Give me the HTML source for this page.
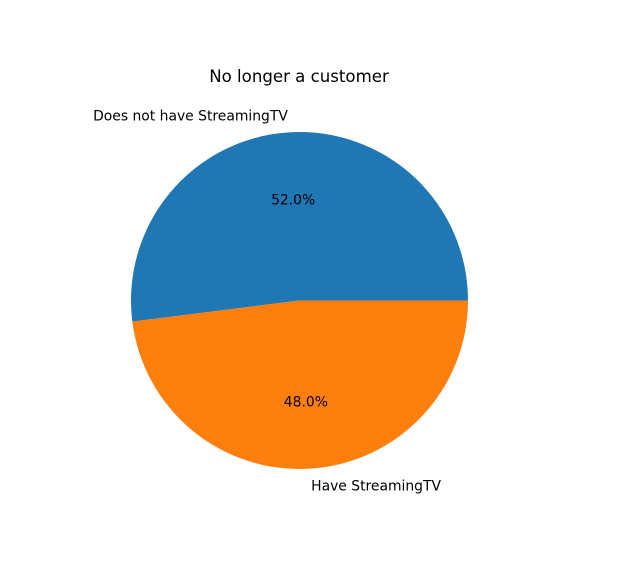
<!DOCTYPE html>
<html><head><meta charset="utf-8"><style>
html,body{margin:0;padding:0;background:#fff;}
svg{display:block;font-family:"DejaVu Sans","Liberation Sans",sans-serif;}
</style></head><body>
<svg id="chart" width="628" height="586" viewBox="0 0 628 586">
<text x="299" y="82" text-anchor="middle" font-size="16.6" fill="#000">No longer a customer</text>
<g id="slices"></g>
<g id="labels"></g>
</svg>
<script>
const categories = ["Does not have StreamingTV", "Have StreamingTV"];
const values = [52.0, 48.0];
const colors = ["#1f77b4", "#ff7f0e"];
const cx = 299.5, cy = 300.5, r = 168.5;
const ns = "http://www.w3.org/2000/svg";
const total = values.reduce((a,b)=>a+b,0);
const slices = document.getElementById("slices");
const labels = document.getElementById("labels");
function pt(deg, rad){ const a = deg*Math.PI/180; return [cx + rad*Math.cos(a), cy - rad*Math.sin(a)]; }
let start = 0;
values.forEach((v,i)=>{
  const sweep = v/total*360;
  const end = start + sweep;
  const [x1,y1] = pt(start,r), [x2,y2] = pt(end,r);
  const large = sweep > 180 ? 1 : 0;
  const p = document.createElementNS(ns,"path");
  p.setAttribute("d",`M${cx},${cy} L${x1},${y1} A${r},${r} 0 ${large} 0 ${x2},${y2} Z`);
  p.setAttribute("fill",colors[i]);
  
  
  slices.appendChild(p);
  const mid = start + sweep/2;
  const [lx,ly] = pt(mid, r*1.1);
  const t = document.createElementNS(ns,"text");
  t.setAttribute("x",lx); t.setAttribute("y",ly+5);
  t.setAttribute("font-size","13.9");
  t.setAttribute("text-anchor", Math.cos(mid*Math.PI/180) < 0 ? "end" : "start");
  t.textContent = categories[i];
  
  
  labels.appendChild(t);
  const [px,py] = pt(mid, r*0.6);
  const q = document.createElementNS(ns,"text");
  q.setAttribute("x",px); q.setAttribute("y",py+5);
  q.setAttribute("font-size","13.9");
  q.setAttribute("text-anchor","middle");
  q.textContent = v.toFixed(1) + "%";
  
  
  labels.appendChild(q);
  start = end;
});
</script>
</body></html>
